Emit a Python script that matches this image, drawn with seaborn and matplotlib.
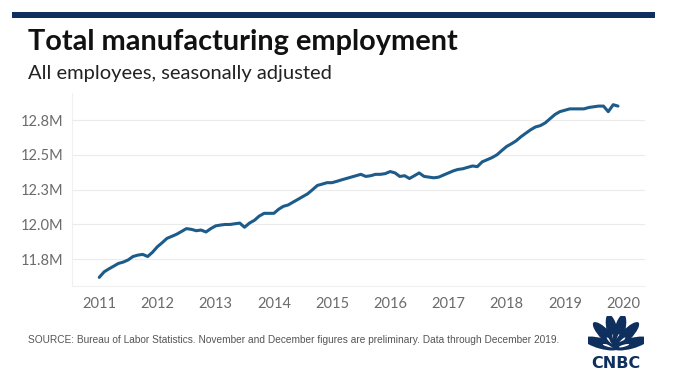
import pandas as pd
import numpy as np
import matplotlib
matplotlib.use('Agg')
import matplotlib.pyplot as plt
import matplotlib.dates as mdates
from matplotlib.patches import Rectangle, Ellipse
import seaborn as sns

# Manufacturing employment, millions, monthly Jan 2011 - Dec 2019
start_month = '2011-01-01'
employment = [
    11.62, 11.66, 11.68, 11.70, 11.72, 11.73, 11.745, 11.77, 11.78, 11.785, 11.77, 11.80,   # 2011
    11.84, 11.87, 11.90, 11.915, 11.93, 11.95, 11.97, 11.965, 11.955, 11.96, 11.946, 11.97,  # 2012
    11.99, 11.996, 12.00, 12.00, 12.005, 12.01, 11.98, 12.01, 12.03, 12.06, 12.08, 12.08,    # 2013
    12.08, 12.11, 12.13, 12.14, 12.16, 12.18, 12.20, 12.22, 12.25, 12.28, 12.29, 12.30,      # 2014
    12.30, 12.31, 12.32, 12.33, 12.34, 12.35, 12.36, 12.345, 12.35, 12.36, 12.36, 12.365,    # 2015
    12.38, 12.37, 12.345, 12.35, 12.33, 12.35, 12.37, 12.345, 12.34, 12.335, 12.34, 12.355,  # 2016
    12.37, 12.385, 12.395, 12.40, 12.41, 12.42, 12.415, 12.45, 12.465, 12.48, 12.50, 12.53,  # 2017
    12.56, 12.58, 12.60, 12.63, 12.655, 12.68, 12.70, 12.71, 12.73, 12.76, 12.79, 12.81,     # 2018
    12.82, 12.83, 12.83, 12.83, 12.83, 12.84, 12.845, 12.85, 12.85, 12.81, 12.86, 12.85,     # 2019
]
months = pd.date_range(start_month, periods=len(employment), freq='MS')

year_ticks = list(range(2011, 2021))
y_ticks = [11.75, 12.0, 12.25, 12.5, 12.75]
y_tick_labels = ['11.8M', '12.0M', '12.3M', '12.5M', '12.8M']

title = 'Total manufacturing employment'
subtitle = 'All employees, seasonally adjusted'
source = ('SOURCE: Bureau of Labor Statistics. November and December figures are preliminary. '
          'Data through December 2019.')

df = pd.DataFrame({'month': months, 'employment': employment})

sns.set_style('white')
plt.rcParams['font.family'] = ['Lato', 'DejaVu Sans']

navy = '#0f2f5e'
line_color = '#1c5b8a'
grid_color = '#ebebeb'
tick_color = '#6b6b6b'

fig = plt.figure(figsize=(6.8, 3.81), dpi=100)
ax = fig.add_axes([0.1054, 0.2493, 0.843, 0.5066])

sns.lineplot(data=df, x='month', y='employment', ax=ax, color=line_color, linewidth=2.2)

ax.set_xlim(pd.Timestamp('2010-07-12'), pd.Timestamp('2020-05-18'))
ax.set_ylim(11.558, 12.944)
ax.set_xticks([pd.Timestamp(f'{y}-01-01') for y in year_ticks])
ax.xaxis.set_major_formatter(mdates.DateFormatter('%Y'))
ax.set_yticks(y_ticks)
ax.set_yticklabels(y_tick_labels)
ax.set_xlabel('')
ax.set_ylabel('')
ax.tick_params(axis='both', length=0, labelsize=10.5, labelcolor=tick_color)
ax.tick_params(axis='y', pad=6)
ax.tick_params(axis='x', pad=8)
ax.grid(axis='y', color=grid_color, linewidth=0.8)
ax.set_axisbelow(True)
for side in ['top', 'right']:
    ax.spines[side].set_visible(False)
for side in ['left', 'bottom']:
    ax.spines[side].set_color('#f0f0f0')
    ax.spines[side].set_linewidth(0.8)

# header bar and titles
fig.add_artist(Rectangle((12 / 680, 1 - 18 / 381), 643 / 680, 6 / 381,
                         transform=fig.transFigure, color=navy, lw=0))
fig.text(28 / 680, 1 - 42 / 381, title, fontsize=20.8, fontweight='bold',
         color='#111111', va='center', ha='left')
fig.text(28 / 680, 1 - 73 / 381, subtitle, fontsize=14.5, color='#222222',
         va='center', ha='left')
fig.text(28 / 680, 1 - 340 / 381, source, fontsize=7.25, color='#555555',
         va='center', ha='left', family=['Liberation Sans Narrow', 'Liberation Sans'])

# rough CNBC peacock mark
logo = fig.add_axes([588 / 680, 1 - 369 / 381, 56 / 680, 53 / 381])
logo.set_xlim(-1, 1)
logo.set_ylim(-1.0, 1.0)
logo.axis('off')
for ang in [164, 132, 103, 77, 48, 16]:
    r = np.deg2rad(ang)
    logo.add_patch(Ellipse((0.55 * np.cos(r), 0.66 * np.sin(r) - 0.22), 0.4, 1.3,
                           angle=ang - 90, color=navy, lw=0))
    logo.add_patch(Ellipse((0.3 * np.cos(r), 0.36 * np.sin(r) - 0.22), 0.08, 0.38,
                           angle=ang - 90, color='white', lw=0))
logo.text(0, -0.8, 'CNBC', fontsize=11.5, fontweight='heavy', color=navy,
          ha='center', va='center', family=['DejaVu Sans'])

fig.savefig('out.png', dpi=100)
